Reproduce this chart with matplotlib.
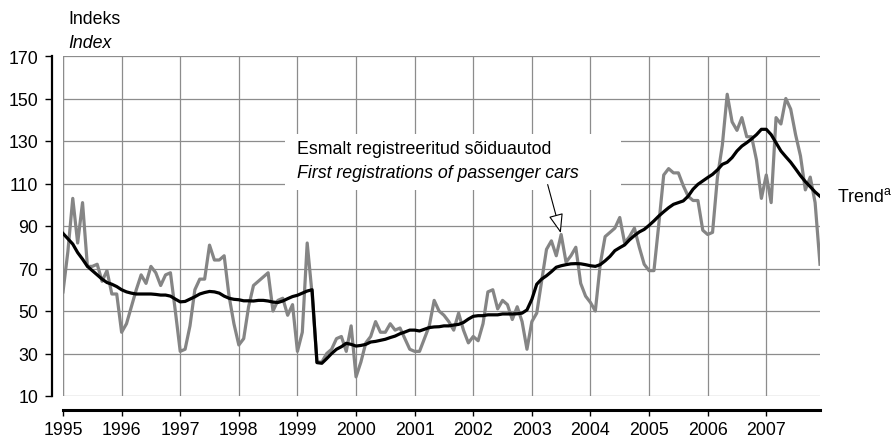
import matplotlib
import matplotlib.pyplot as plt
import numpy as np
from matplotlib.patches import Rectangle

matplotlib.use('Agg')

plt.rcParams['font.family'] = ['Liberation Sans', 'DejaVu Sans']
plt.rcParams['mathtext.fontset'] = 'custom'
plt.rcParams['mathtext.rm'] = 'Liberation Sans'

# Monthly index of first registrations of passenger cars, Jan 1995 - Dec 2007
first_registrations = [
    59, 78, 103, 82, 101, 71, 71, 72, 64, 69, 58, 58,            # 1995
    40, 44, 52, 60, 67, 63, 71, 68, 62, 67, 68, 50,              # 1996
    31, 32, 43, 60, 65, 65, 81, 74, 74, 76, 57, 44,              # 1997
    34, 37, 52, 62, 64, 66, 68, 50, 55, 56, 48, 53,              # 1998
    31, 40, 82, 58, 26, 26, 30, 32, 37, 38, 31, 43,              # 1999
    19, 26, 35, 38, 45, 40, 40, 44, 41, 42, 37, 32,              # 2000
    31, 31, 37, 43, 55, 50, 48, 45, 41, 49, 41, 35,              # 2001
    38, 36, 44, 59, 60, 51, 55, 53, 46, 52, 45, 32,              # 2002
    45, 49, 64, 79, 83, 76, 86, 73, 76, 80, 63, 57,              # 2003
    54, 50, 72, 85, 87, 89, 94, 82, 85, 89, 80, 72,              # 2004
    69, 69, 91, 114, 117, 115, 115, 109, 104, 102, 102, 88,      # 2005
    86, 87, 113, 128, 152, 139, 135, 141, 132, 132, 121, 103,    # 2006
    114, 101, 141, 138, 150, 145, 133, 123, 107, 113, 101, 72,   # 2007
]

trend = [
    86.5, 84, 81.5, 77.5, 74.4, 71, 69, 67, 65, 63.4, 62.6, 61.5,
    60, 59, 58.4, 58, 58, 58, 58, 57.8, 57.5, 57.5, 57, 55.6,
    54.3, 54.5, 55.6, 56.7, 58, 58.7, 59.2, 59, 58.4, 57, 56, 55.5,
    55.3, 54.8, 54.8, 54.7, 55, 55, 54.7, 54.2, 54, 54.7, 55.8, 56.8,
    57.4, 58.4, 59.4, 60, 25.7, 25.4, 27.6, 30, 32, 33.2, 34.8, 34.3,
    33.5, 33.8, 34.3, 35.4, 35.7, 36.2, 36.7, 37.5, 38.2, 39.3, 40.1, 41,
    41, 40.6, 41.4, 42.2, 42.5, 42.6, 43, 43, 43.4, 43.7, 44.6, 46.2,
    47.5, 47.8, 47.8, 48.2, 48.2, 48.2, 48.6, 48.6, 48.6, 48.7, 49, 50.5,
    55.5, 62.6, 65, 66.6, 68.5, 70.6, 71.3, 71.8, 72.2, 72.3, 72.2, 71.8,
    71.3, 71, 71.8, 73.6, 75.7, 78.4, 79.8, 81.1, 83.5, 85.5, 87.2, 88.4,
    90.3, 92.4, 94.7, 96.7, 98.6, 100.2, 101, 101.8, 104, 107.3, 109.6, 111.2,
    112.8, 114.3, 116.4, 119, 120, 122.2, 125.3, 127.6, 129.2, 131, 133, 135.5,
    135.5, 133, 129.2, 125.3, 122.6, 120, 116.9, 113.7, 110.9, 108.5, 106, 104,
]

start_year = 1995
years = list(range(1995, 2008))
y_ticks = list(range(10, 171, 20))

t = start_year + np.arange(len(first_registrations)) / 12.0

fs = 12.8
fig = plt.figure(figsize=(8.91, 4.39), dpi=100)
ax = fig.add_axes([63 / 891, 42 / 439, 757 / 891, 340 / 439])

grid_color = '#8c8c8c'
ax.set_xlim(t[0], t[-1])
ax.set_ylim(10, 170)
ax.set_xticks(years)
ax.set_yticks(y_ticks)
ax.set_axisbelow(True)
ax.grid(True, color=grid_color, linewidth=0.9)

# vertical gridline on the left edge of the plot area
ax.axvline(t[0], color=grid_color, linewidth=0.9, zorder=0.5)

# white area behind the series caption, hides the grid there
ax.add_patch(Rectangle((1998.79, 106.9), 5.73, 26.4, facecolor='white',
                       edgecolor='none', zorder=1))

ax.plot(t, first_registrations, color='#858585', linewidth=2.3, zorder=2)
ax.plot(t, trend, color='black', linewidth=2.3, zorder=3)

for s in ['top', 'right']:
    ax.spines[s].set_visible(False)
ax.spines['left'].set_position(('outward', 8))
ax.spines['left'].set_linewidth(1.6)
ax.spines['left'].set_bounds(10, 170)
ax.spines['bottom'].set_position(('outward', 10))
ax.spines['bottom'].set_linewidth(2.2)
ax.tick_params(axis='y', direction='out', length=5, width=1, pad=5, labelsize=fs)
ax.tick_params(axis='x', direction='out', length=4.5, width=1, pad=3.5, labelsize=fs)

ax.text(1998.99, 126.7, 'Esmalt registreeritud sõiduautod', fontsize=fs,
        va='center', ha='left', zorder=4)
ax.text(1998.99, 115.4, 'First registrations of passenger cars', fontsize=fs,
        style='italic', va='center', ha='left', zorder=4)

peak = 8 * 12 + 6  # July 2003
ax.annotate('', xy=(t[peak], first_registrations[peak]), xytext=(2003.27, 109.5),
            arrowprops=dict(arrowstyle='-|>,head_length=1.2,head_width=0.45',
                            facecolor='white', edgecolor='black', linewidth=0.8,
                            shrinkA=0, shrinkB=1),
            zorder=4)

ax.annotate('Trend$^{\\mathrm{a}}$', xy=(t[-1], trend[-1]), xytext=(12, 0),
            textcoords='offset points', va='center', ha='left', fontsize=fs,
            annotation_clip=False)

fig.text(68 / 891, 1 - 20 / 439, 'Indeks', fontsize=fs, va='center', ha='left')
fig.text(68 / 891, 1 - 44 / 439, 'Index', fontsize=fs, style='italic',
         va='center', ha='left')

fig.savefig('out.png', dpi=100)
plt.close(fig)
